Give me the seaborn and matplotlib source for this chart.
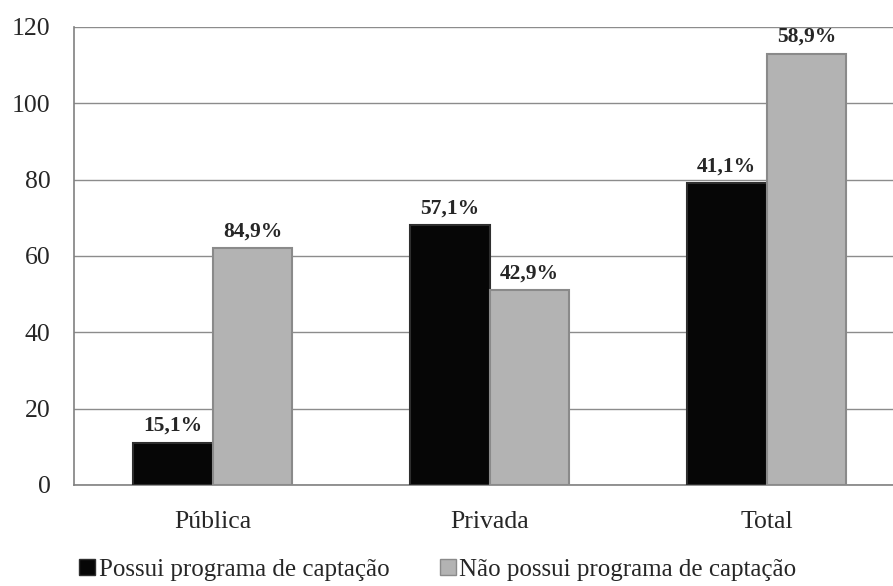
import pandas as pd
import matplotlib.pyplot as plt
import seaborn as sns
from matplotlib.lines import Line2D

# data
categorias = ['Pública', 'Privada', 'Total']
possui = [11, 68, 79]
nao_possui = [62, 51, 113]
pct_possui = ['15,1%', '57,1%', '41,1%']
pct_nao = ['84,9%', '42,9%', '58,9%']
series = ['Possui programa de captação', 'Não possui programa de captação']

df = pd.DataFrame({
    'categoria': categorias * 2,
    'valor': possui + nao_possui,
    'serie': [series[0]] * 3 + [series[1]] * 3,
})

sns.set_style('white')
plt.rcParams['font.family'] = ['Liberation Serif', 'DejaVu Serif']

fig = plt.figure(figsize=(8.93, 5.86), dpi=100)
# axes run slightly past the right edge of the picture, as in the original
ax = fig.add_axes([0.0829, 0.1724, 0.9306, 0.7816])

cores = ['#060606', '#b3b3b3']
sns.barplot(data=df, x='categoria', y='valor', hue='serie', palette=cores,
            width=0.577, gap=0, ax=ax, legend=False, saturation=1)

bordas = ['#2e2e2e', '#8a8a8a']
for i, cont in enumerate(ax.containers):
    for bar in cont:
        bar.set_edgecolor(bordas[i])
        bar.set_linewidth(1.5)
        bar.set_zorder(3)

labels = [pct_possui, pct_nao]
for i, cont in enumerate(ax.containers):
    ax.bar_label(cont, labels=labels[i], padding=5, fontsize=15.5,
                 fontweight='bold')

ax.set_ylim(0, 120)
ax.set_yticks(range(0, 121, 20))
ax.set_xlim(-0.5, 2.5)
ax.yaxis.grid(True, color='#8c8c8c', linewidth=1.0)
ax.set_axisbelow(True)
ax.set_xlabel('')
ax.set_ylabel('')
ax.tick_params(axis='both', labelsize=18.5, length=0)
ax.tick_params(axis='y', length=6, color='#808080', pad=11)
ax.tick_params(axis='x', pad=19)
for s in ['top', 'right']:
    ax.spines[s].set_visible(False)
for s in ['left', 'bottom']:
    ax.spines[s].set_color('#808080')
    ax.spines[s].set_linewidth(1.2)

# small ticks between categories
ax.set_xticks([0.5, 1.5], minor=True)
ax.tick_params(axis='x', which='minor', length=6, color='#808080')

handles = [Line2D([0], [0], marker='s', color='none', markerfacecolor=cores[i],
                  markeredgecolor=bordas[i], markersize=11) for i in range(2)]
fig.legend(handles, series, loc='lower center', ncol=2, frameon=False,
           fontsize=18, bbox_to_anchor=(0.49, -0.03), handletextpad=0.1,
           columnspacing=2.0, handlelength=0.7)

plt.savefig('out.png', dpi=100)
